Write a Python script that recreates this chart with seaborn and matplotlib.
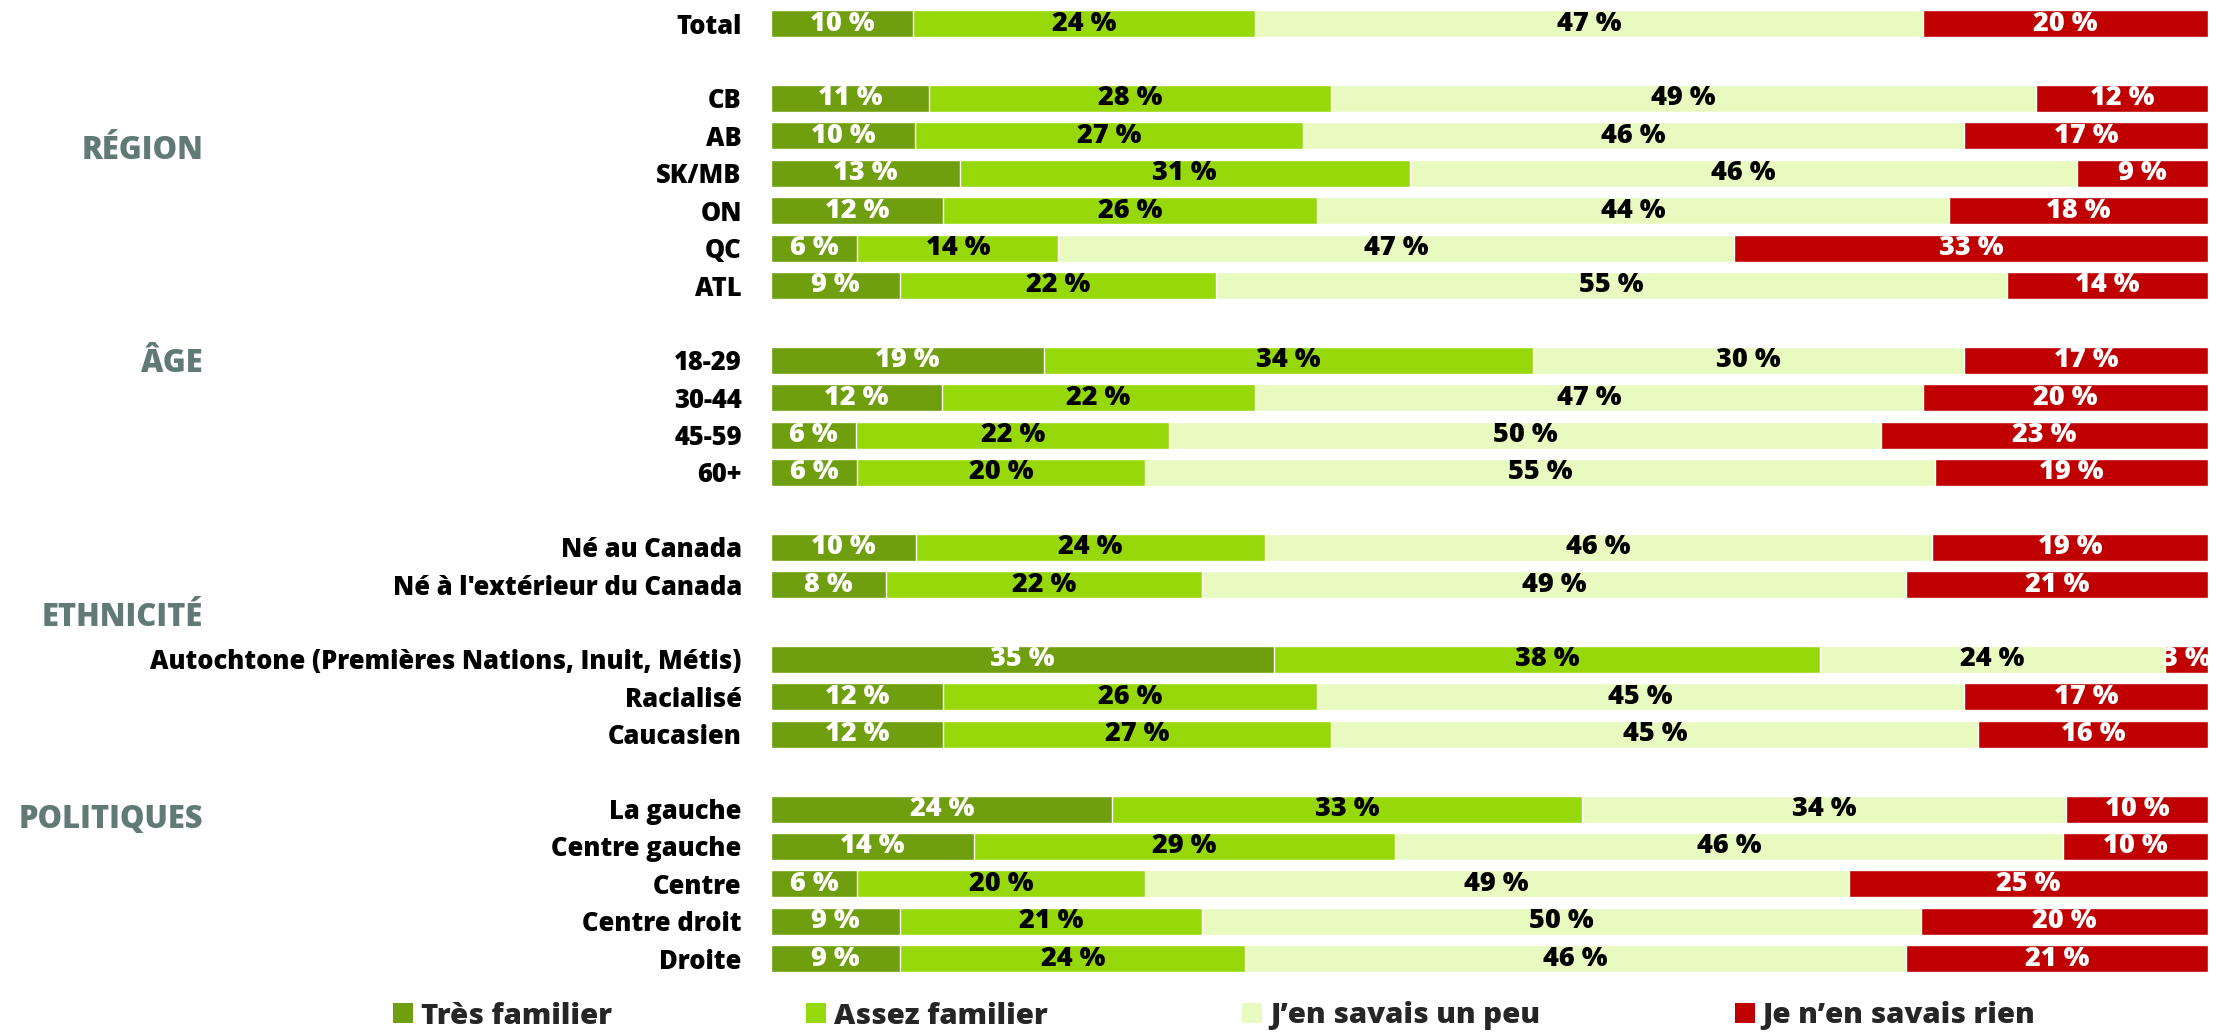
import pandas as pd
import seaborn as sns
from matplotlib import pyplot as plt
from matplotlib.patches import Patch
from matplotlib.transforms import blended_transform_factory

# categories, top to bottom
categories = ["Total", "CB", "AB", "SK/MB", "ON", "QC", "ATL",
              "18-29", "30-44", "45-59", "60+",
              "Né au Canada", "Né à l'extérieur du Canada",
              "Autochtone (Premières Nations, Inuit, Métis)", "Racialisé", "Caucasien",
              "La gauche", "Centre gauche", "Centre", "Centre droit", "Droite"]
tres_familier = [10, 11, 10, 13, 12, 6, 9, 19, 12, 6, 6, 10, 8, 35, 12, 12, 24, 14, 6, 9, 9]
assez_familier = [24, 28, 27, 31, 26, 14, 22, 34, 22, 22, 20, 24, 22, 38, 26, 27, 33, 29, 20, 21, 24]
un_peu = [47, 49, 46, 46, 44, 47, 55, 30, 47, 50, 55, 46, 49, 24, 45, 45, 34, 46, 49, 50, 46]
rien = [20, 12, 17, 9, 18, 33, 14, 17, 20, 23, 19, 19, 21, 3, 17, 16, 10, 10, 25, 20, 21]

levels = ["Très familier", "Assez familier", "J’en savais un peu", "Je n’en savais rien"]
colors = ["#6f9e0e", "#96d80a", "#e8fac0", "#c00000"]
text_colors = ["white", "black", "black", "white"]

groups = ["RÉGION", "ÂGE", "ETHNICITÉ", "POLITIQUES"]

# row order with blank spacer rows between groups
order = ["Total", " ",
         "CB", "AB", "SK/MB", "ON", "QC", "ATL", "  ",
         "18-29", "30-44", "45-59", "60+", "   ",
         "Né au Canada", "Né à l'extérieur du Canada", "    ",
         "Autochtone (Premières Nations, Inuit, Métis)", "Racialisé", "Caucasien", "     ",
         "La gauche", "Centre gauche", "Centre", "Centre droit", "Droite"]
group_rows = [3.4, 9.1, 15.9, 21.3]

df = pd.DataFrame({"row": categories,
                   levels[0]: tres_familier,
                   levels[1]: assez_familier,
                   levels[2]: un_peu,
                   levels[3]: rien})
shares = df[levels].div(df[levels].sum(axis=1), axis=0) * 100
cum = shares.cumsum(axis=1)

sns.set_theme(style="white")
plt.rcParams["font.family"] = ["Open Sans", "DejaVu Sans"]
WEIGHT = 800

W, H = 2223, 1034
fig = plt.figure(figsize=(W / 100, H / 100), dpi=100)
ax = fig.add_axes([771 / W, 1 - 977.4 / H, 1437 / W, 972.4 / H])

# stacked bars: draw cumulative totals from the longest down
for lvl, col in reversed(list(zip(levels, colors))):
    sns.barplot(x=cum[lvl], y=df["row"], order=order, orient="h", color=col,
                saturation=1, width=0.72, errorbar=None, ax=ax)

for i, name in enumerate(df["row"]):
    ypos = order.index(name)
    for lvl, tc in zip(levels, text_colors):
        w = shares.loc[i, lvl]
        left = cum.loc[i, lvl] - w
        ax.text(left + w / 2, ypos, f"{df.loc[i, lvl]} %", ha="center", va="center",
                color=tc, fontsize=19.5, fontweight=WEIGHT, clip_on=True)

ax.set_xlim(0, 100)
ax.set_ylim(len(order) - 0.5, -0.5)
ax.set_xticks([])
ax.set_xlabel("")
ax.set_ylabel("")
ax.tick_params(axis="y", length=0, pad=21, labelsize=18.4)
for lab in ax.get_yticklabels():
    lab.set_fontweight(WEIGHT)
    lab.set_color("black")
sns.despine(ax=ax, left=True, bottom=True)

tr = blended_transform_factory(fig.transFigure, ax.transData)
for g, r in zip(groups, group_rows):
    ax.text(203 / W, r, g, transform=tr, ha="right", va="center",
            fontsize=22.2, fontweight=WEIGHT, color="#617a76")

handles = [Patch(facecolor=c, edgecolor="none") for c in colors]
fig.legend(handles, levels, loc="center left", bbox_to_anchor=(393 / W, 1 - 1016 / H),
           ncol=4, frameon=False, prop={"size": 21.2, "weight": WEIGHT},
           handlelength=0.68, handleheight=0.68, handletextpad=0.27,
           columnspacing=6.6, borderpad=0, borderaxespad=0)

fig.savefig("out.png", dpi=100)
